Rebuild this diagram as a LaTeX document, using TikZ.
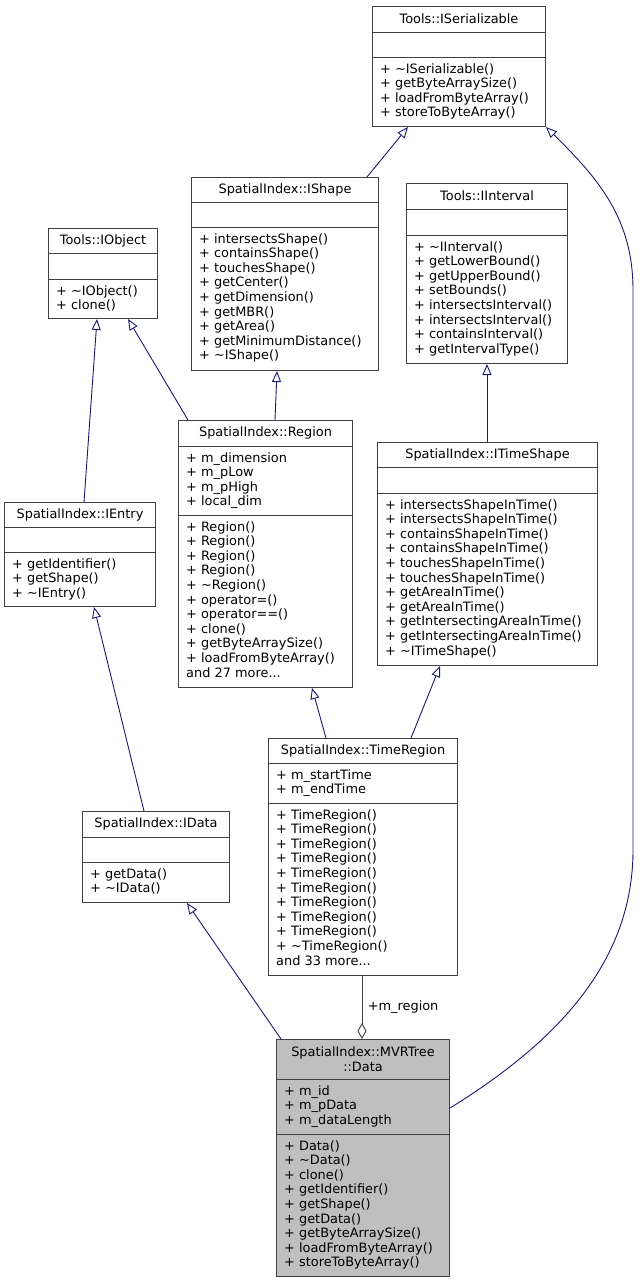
\documentclass[tikz,border=0pt]{standalone}
\usepackage{fontspec}
\setmainfont{DejaVu Sans}
\usepackage{tikz}
\usetikzlibrary{positioning,arrows.meta,calc}
\definecolor{edgeblue}{HTML}{191970}
\definecolor{boxline}{HTML}{404040}
\definecolor{boxgray}{HTML}{BFBFBF}

\tikzset{
  cls/.style={draw=boxline, line width=1pt, fill=white, anchor=north west, inner sep=0pt},
  cls line/.style={draw=boxline, line width=1pt},
  cls title/.style={inner sep=0pt, align=center},
  cls text/.style={anchor=north west, inner sep=0pt, align=left},
  inherit/.style={draw=edgeblue, line width=0.9pt,
    -{Triangle[fill=white, length=11pt, width=9pt]}},
  aggr/.style={draw=boxline, line width=0.9pt,
    -{Diamond[fill=white, length=16pt, width=9pt]}},
}

% class box: name, position, width, height, first sep, second sep, title, attributes, methods
\newcommand{\umlclass}[9]{%
  \node[cls, minimum width=#3, minimum height=#4] (#1) at #2 {};
  \draw[cls line] ($(#1.north west)+(0,#5)$) -- ($(#1.north east)+(0,#5)$);
  \draw[cls line] ($(#1.north west)+(0,#6)$) -- ($(#1.north east)+(0,#6)$);
  \node[cls title] at ($(#1.north)+(0,{#5/2})$) {#7};
  \node[cls text] at ($(#1.north west)+(8,{#5+6})$) {#8};
  \node[cls text] at ($(#1.north west)+(8,{#6+6})$) {#9};
}
\newcommand{\tl}{\textasciitilde}

\begin{document}
\begin{tikzpicture}[x=1pt, y=-1pt,
    font=\fontsize{12.9}{14.6}\selectfont]
    \useasboundingbox (0,0) rectangle (640,1283);

    % Classes
    \umlclass{iser}{(372,6)}{173}{120}{26}{51}{Tools::ISerializable}{}
      {+ \tl ISerializable()\\+ getByteArraySize()\\+ loadFromByteArray()\\+ storeToByteArray()}
    \umlclass{ishape}{(191,177)}{187}{193}{25}{50}{SpatialIndex::IShape}{}
      {+ intersectsShape()\\+ containsShape()\\+ touchesShape()\\+ getCenter()\\+ getDimension()\\+ getMBR()\\+ getArea()\\+ getMinimumDistance()\\+ \tl IShape()}
    \umlclass{iobj}{(48,228)}{109}{90}{25}{51}{Tools::IObject}{}
      {+ \tl IObject()\\+ clone()}
    \umlclass{iint}{(406,183)}{161}{180}{26}{52}{Tools::IInterval}{}
      {+ \tl IInterval()\\+ getLowerBound()\\+ getUpperBound()\\+ setBounds()\\+ intersectsInterval()\\+ intersectsInterval()\\+ containsInterval()\\+ getIntervalType()}
    \umlclass{region}{(178,420)}{174}{267}{26}{95}{SpatialIndex::Region}
      {+ m\_dimension\\+ m\_pLow\\+ m\_pHigh\\+ local\_dim}
      {+ Region()\\+ Region()\\+ Region()\\+ Region()\\+ \tl Region()\\+ operator=()\\+ operator==()\\+ clone()\\+ getByteArraySize()\\+ loadFromByteArray()\\and 27 more...}
    \umlclass{itime}{(377,442)}{220}{223}{25}{51}{SpatialIndex::ITimeShape}{}
      {+ intersectsShapeInTime()\\+ intersectsShapeInTime()\\+ containsShapeInTime()\\+ containsShapeInTime()\\+ touchesShapeInTime()\\+ touchesShapeInTime()\\+ getAreaInTime()\\+ getAreaInTime()\\+ getIntersectingAreaInTime()\\+ getIntersectingAreaInTime()\\+ \tl ITimeShape()}
    \umlclass{ientry}{(4,502)}{151}{104}{25}{50}{SpatialIndex::IEntry}{}
      {+ getIdentifier()\\+ getShape()\\+ \tl IEntry()}
    \umlclass{idata}{(82,811)}{147}{91}{26}{51}{SpatialIndex::IData}{}
      {+ getData()\\+ \tl IData()}
    \umlclass{treg}{(268,738)}{189}{237}{25}{65}{SpatialIndex::TimeRegion}
      {+ m\_startTime\\+ m\_endTime}
      {+ TimeRegion()\\+ TimeRegion()\\+ TimeRegion()\\+ TimeRegion()\\+ TimeRegion()\\+ TimeRegion()\\+ TimeRegion()\\+ TimeRegion()\\+ TimeRegion()\\+ \tl TimeRegion()\\and 33 more...}
    \begin{scope}[cls/.append style={fill=boxgray}]
      \umlclass{data}{(276,1039)}{173}{237}{40}{95}{SpatialIndex::MVRTree\\::Data}
        {+ m\_id\\+ m\_pData\\+ m\_dataLength}
        {+ Data()\\+ \tl Data()\\+ clone()\\+ getIdentifier()\\+ getShape()\\+ getData()\\+ getByteArraySize()\\+ loadFromByteArray()\\+ storeToByteArray()}
    \end{scope}

    % Inheritance
    \draw[inherit] ($(ishape.north west)+(176,0)$) -- ($(iser.south west)+(36,0)$);
    \draw[inherit] ($(region.north west)+(10,0)$) -- ($(iobj.south west)+(80,0)$);
    \draw[inherit] ($(region.north west)+(97,0)$) -- ($(ishape.south west)+(86,0)$);
    \draw[inherit] ($(ientry.north west)+(80,0)$) -- ($(iobj.south west)+(49,0)$);
    \draw[inherit] ($(itime.north west)+(110,0)$) -- ($(iint.south west)+(81,0)$);
    \draw[inherit] ($(treg.north west)+(58,0)$) -- ($(region.south west)+(134,0)$);
    \draw[inherit] ($(treg.north west)+(143,0)$) -- ($(itime.south west)+(63,0)$);
    \draw[inherit] ($(idata.north west)+(62,0)$) -- ($(ientry.south west)+(90,0)$);
    \draw[inherit] ($(data.north west)+(5,0)$) -- ($(idata.south west)+(105,0)$);
    \draw[inherit] ($(data.north east)+(0,69)$)
      .. controls (560,1040) and (633,960) .. (633,850) -- (633,290)
      .. controls (633,220) and (600,180) .. ($(iser.south east)$);

    % Aggregation
    \draw[aggr] ($(treg.south west)+(94,0)$) --
      node[right=2pt] {+m\_region} ($(data.north west)+(86,0)$);
\end{tikzpicture}
\end{document}
